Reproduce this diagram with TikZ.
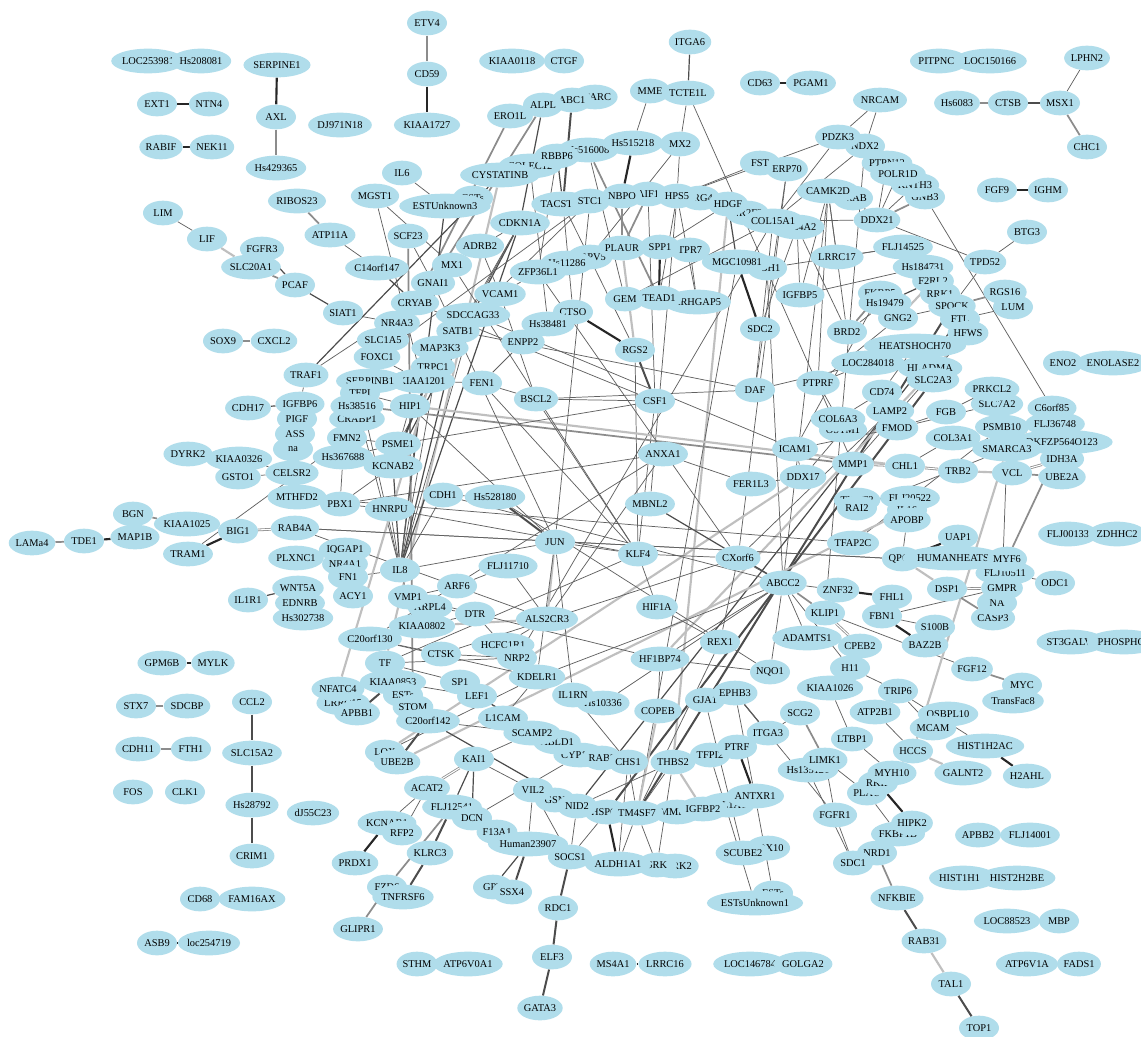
\documentclass[tikz,border=0pt]{standalone}
\usepackage{fontspec}
\setmainfont{Liberation Serif}
\usetikzlibrary{shapes.geometric}
\definecolor{nodeblue}{RGB}{176,221,235}
\pgfdeclarelayer{bg}
\pgfsetlayers{bg,main}
\tikzset{
 gnode/.style={ellipse, fill=nodeblue, draw=none, inner xsep=0pt, inner ysep=0pt, minimum height=18.5pt, minimum width=30pt, font=\fontsize{7.8}{8.5}\selectfont},
 eK/.style={draw=black!85, line width=1.6pt},
 eDK/.style={draw=black!70, line width=1.5pt},
 eD/.style={draw=black!70, line width=0.9pt},
 eT/.style={draw=black!62, line width=0.55pt},
 eM/.style={draw=black!45, line width=1.3pt},
 eL/.style={draw=black!25, line width=1.6pt},
 eDM/.style={draw=black!45, double=white, line width=0.6pt, double distance=0.8pt}
}
\newcommand\gnd[4]{\node[gnode] (#1) at (#2,#3) {#4};}
\newcommand\lnk[3]{\draw[#1] (#2) -- (#3);}
\begin{document}
\begin{tikzpicture}[x=0.75pt,y=-0.75pt]
\useasboundingbox (0,0) rectangle (1141,1036);
% ---------- outer / isolated nodes
\gnd{LOC253981}{148}{61}{LOC253981}
\gnd{Hs208081}{201}{61}{Hs208081}
\gnd{SERPINE1}{277}{65}{SERPINE1}
\gnd{AXL}{276}{117}{AXL}
\gnd{Hs429365}{276}{168}{Hs429365}
\gnd{EXT1}{157}{104}{EXT1}
\gnd{NTN4}{209}{104}{NTN4}
\gnd{RABIF}{161}{147}{RABIF}
\gnd{NEK11}{212}{147}{NEK11}
\gnd{DJ971N18}{340}{125}{DJ971N18}
\gnd{ETV4}{427}{23}{ETV4}
\gnd{CD59}{427}{74}{CD59}
\gnd{KIAA1727}{427}{125}{KIAA1727}
\gnd{KIAA0118}{512}{61}{KIAA0118}
\gnd{CTGF}{564}{61}{CTGF}
\gnd{ITGA6}{690}{42}{ITGA6}
\gnd{MME}{650}{91}{MME}
\gnd{TCTE1L}{688}{93}{TCTE1L}
\gnd{CD63}{760}{83}{CD63}
\gnd{PGAM1}{811}{83}{PGAM1}
\gnd{PITPNC1}{939}{61}{PITPNC1}
\gnd{LOC150166}{990}{61}{LOC150166}
\gnd{LPHN2}{1087}{58}{LPHN2}
\gnd{Hs6083}{957}{103}{Hs6083}
\gnd{CTSB}{1008}{103}{CTSB}
\gnd{MSX1}{1060}{103}{MSX1}
\gnd{CHC1}{1087}{147}{CHC1}
\gnd{FGF9}{997}{190}{FGF9}
\gnd{IGHM}{1048}{190}{IGHM}
\gnd{BTG3}{1027}{232}{BTG3}
\gnd{TPD52}{985}{262}{TPD52}
\gnd{ENO2}{1063}{363}{ENO2}
\gnd{ENOLASE2}{1113}{363}{ENOLASE2}
\gnd{FLJ00133}{1068}{534}{FLJ00133}
\gnd{ZDHHC2}{1117}{534}{ZDHHC2}
\gnd{ST3GALVI}{1071}{642}{ST3GALVI}
\gnd{PHOSPHO1}{1124}{642}{PHOSPHO1}
\gnd{LIM}{163}{213}{LIM}
\gnd{LIF}{207}{239}{LIF}
\gnd{RIBOS23}{297}{201}{RIBOS23}
\gnd{ATP11A}{330}{235}{ATP11A}
\gnd{FGFR3}{262}{249}{FGFR3}
\gnd{SLC20A1}{251}{267}{SLC20A1}
\gnd{PCAF}{295}{285}{PCAF}
\gnd{SIAT1}{343}{313}{SIAT1}
\gnd{C14orf147}{377}{268}{C14orf147}
\gnd{SOX9}{223}{341}{SOX9}
\gnd{CXCL2}{274}{341}{CXCL2}
\gnd{IL6}{402}{173}{IL6}
\gnd{MGST1}{375}{196}{MGST1}
\gnd{TRAF1}{306}{375}{TRAF1}
\gnd{CDH17}{248}{408}{CDH17}
\gnd{IGFBP6}{300}{404}{IGFBP6}
\gnd{PIGF}{297}{419}{PIGF}
\gnd{ASS}{295}{434}{ASS}
\gnd{na}{293}{449}{na}
\gnd{KIAA0326}{239}{459}{KIAA0326}
\gnd{DYRK2}{188}{454}{DYRK2}
\gnd{GSTO1}{238}{477}{GSTO1}
\gnd{CELSR2}{292}{473}{CELSR2}
\gnd{MTHFD2}{297}{497}{MTHFD2}
\gnd{BGN}{133}{514}{BGN}
\gnd{KIAA1025}{187}{524}{KIAA1025}
\gnd{LAMa4}{32}{543}{LAMa4}
\gnd{TDE1}{84}{541}{TDE1}
\gnd{MAP1B}{135}{537}{MAP1B}
\gnd{BIG1}{238}{531}{BIG1}
\gnd{TRAM1}{188}{554}{TRAM1}
\gnd{RAB4A}{295}{528}{RAB4A}
\gnd{PLXNC1}{296}{558}{PLXNC1}
\gnd{IL1R1}{248}{600}{IL1R1}
\gnd{WNT5A}{298}{588}{WNT5A}
\gnd{EDNRB}{300}{603}{EDNRB}
\gnd{Hs302738}{303}{618}{Hs302738}
\gnd{GPM6B}{162}{663}{GPM6B}
\gnd{MYLK}{213}{663}{MYLK}
\gnd{STX7}{136}{706}{STX7}
\gnd{SDCBP}{187}{706}{SDCBP}
\gnd{CCL2}{252}{702}{CCL2}
\gnd{CDH11}{138}{749}{CDH11}
\gnd{FTH1}{191}{749}{FTH1}
\gnd{SLC15A2}{252}{753}{SLC15A2}
\gnd{FOS}{133}{792}{FOS}
\gnd{CLK1}{185}{792}{CLK1}
\gnd{Hs28792}{252}{805}{Hs28792}
\gnd{CRIM1}{252}{856}{CRIM1}
\gnd{CD68}{200}{899}{CD68}
\gnd{FAM16AX}{252}{899}{FAM16AX}
\gnd{ASB9}{157}{943}{ASB9}
\gnd{loc254719}{209}{943}{loc254719}
\gnd{dJ55C23}{313}{813}{dJ55C23}
% ---------- central top
\gnd{SPARC}{595}{97}{SPARC}
\gnd{ABC1}{572}{100}{ABC1}
\gnd{ALPL}{543}{105}{ALPL}
\gnd{ERO1L}{510}{116}{ERO1L}
\gnd{COLEC12}{530}{166}{COLEC12}
\gnd{Hs516008}{588}{150}{Hs516008}
\gnd{RBBP6}{557}{156}{RBBP6}
\gnd{Hs515218}{633}{143}{Hs515218}
\gnd{MX2}{680}{144}{MX2}
\gnd{CYSTATINB}{500}{175}{CYSTATINB}
\gnd{ESTb}{473}{198}{ESTs}
\gnd{ESTUnknown3}{445}{206}{ESTUnknown3}
\gnd{SCF23}{408}{236}{SCF23}
\gnd{TAC}{563}{204}{TACSTD2}
\gnd{STC1}{590}{201}{STC1}
\gnd{AIF1}{648}{194}{AIF1}
\gnd{NBPO}{622}{196}{NBPO}
\gnd{PRG4}{700}{198}{PRG4}
\gnd{HPS5}{677}{196}{HPS5}
\gnd{NR2F2}{747}{213}{NR2F2}
\gnd{HDGF}{728}{204}{HDGF}
\gnd{COL4A2}{797}{227}{COL4A2}
\gnd{COL15A1}{773}{221}{COL15A1}
\gnd{CDKN1A}{520}{223}{CDKN1A}
\gnd{ADRB2}{480}{246}{ADRB2}
\gnd{MX1}{452}{265}{MX1}
\gnd{GNAI1}{433}{283}{GNAI1}
\gnd{CRYAB}{415}{303}{CRYAB}
\gnd{NR4A3}{397}{323}{NR4A3}
\gnd{SLC1A5}{383}{340}{SLC1A5}
\gnd{TRPV5}{590}{257}{TRPV5}
\gnd{Hs11286}{567}{263}{Hs11286}
\gnd{ZFP36L1}{538}{272}{ZFP36L1}
\gnd{VCAM1}{500}{294}{VCAM1}
\gnd{SDCCAG33}{473}{315}{SDCCAG33}
\gnd{SATB1}{458}{331}{SATB1}
\gnd{TRPC1}{433}{367}{TRPC1}
\gnd{MAP3K3}{440}{348}{MAP3K3}
\gnd{KIAA1201}{422}{381}{KIAA1201}
\gnd{FOXC1}{377}{357}{FOXC1}
\gnd{SERPINB1}{370}{381}{SERPINB1}
\gnd{TFPI}{360}{393}{TFPI}
\gnd{CRABP1}{357}{419}{CRABP1}
\gnd{Hs38516}{357}{406}{Hs38516}
\gnd{HIP1}{410}{406}{HIP1}
\gnd{FMN2}{347}{438}{FMN2}
\gnd{PSME1}{398}{444}{PSME1}
\gnd{Hs367688}{343}{457}{Hs367688}
\gnd{KCNAB2}{393}{466}{KCNAB2}
\gnd{CTSO}{573}{312}{CTSO}
\gnd{Hs38481}{548}{324}{Hs38481}
\gnd{ENPP2}{523}{342}{ENPP2}
\gnd{FEN1}{482}{383}{FEN1}
\gnd{BSCL2}{536}{399}{BSCL2}
\gnd{TPR7}{690}{250}{TPR7}
\gnd{SPP1}{660}{247}{SPP1}
\gnd{CBH1}{767}{268}{CBH1}
\gnd{MGC10981}{737}{262}{MGC10981}
\gnd{PLAUR}{622}{248}{PLAUR}
\gnd{GEM}{625}{299}{GEM}
\gnd{ARHGAP5}{697}{302}{ARHGAP5}
\gnd{TEAD1}{659}{298}{TEAD1}
\gnd{RGS2}{635}{350}{RGS2}
\gnd{CSF1}{655}{401}{CSF1}
\gnd{SDC2}{760}{329}{SDC2}
\gnd{IGFBP5}{800}{295}{IGFBP5}
\gnd{LRRC17}{837}{257}{LRRC17}
\gnd{BRD2}{847}{332}{BRD2}
% ---------- top right cluster
\gnd{FST}{760}{163}{FST}
\gnd{TRAB}{853}{198}{TRAB}
\gnd{ERP70}{787}{169}{ERP70}
\gnd{CAMK2D}{828}{191}{CAMK2D}
\gnd{NDX2}{865}{146}{NDX2}
\gnd{PDZK3}{838}{137}{PDZK3}
\gnd{NRCAM}{880}{100}{NRCAM}
\gnd{PTPN12}{887}{163}{PTPN12}
\gnd{GNB3}{925}{197}{GNB3}
\gnd{KNTH3}{915}{185}{KNTH3}
\gnd{POLR1D}{898}{174}{POLR1D}
\gnd{DDX21}{877}{220}{DDX21}
\gnd{FLJ14525}{903}{247}{FLJ14525}
\gnd{Hs184731}{923}{267}{Hs184731}
\gnd{F2RL2}{933}{281}{F2RL2}
\gnd{FKBP5}{880}{293}{FKBP5}
\gnd{RRK1}{940}{294}{RRK1}
\gnd{Hs19479}{885}{303}{Hs19479}
\gnd{SPOCK}{952}{306}{SPOCK}
\gnd{GNG2}{898}{318}{GNG2}
\gnd{FTL}{960}{319}{FTL}
\gnd{HFWS}{968}{333}{HFWS}
\gnd{HEATSHOCH70}{915}{346}{HEATSHOCH70}
\gnd{LOC284018}{868}{363}{LOC284018}
\gnd{HLADMA}{930}{368}{HLADMA}
\gnd{SLC2A3}{933}{380}{SLC2A3}
\gnd{CD74}{882}{392}{CD74}
\gnd{LAMP2}{890}{411}{LAMP2}
\gnd{FMOD}{897}{428}{FMOD}
\gnd{RGS16}{1005}{292}{RGS16}
\gnd{LUM}{1013}{307}{LUM}
\gnd{SLC7A2}{997}{404}{SLC7A2}
\gnd{PRKCL2}{992}{389}{PRKCL2}
\gnd{FGB}{946}{412}{FGB}
\gnd{C6orf85}{1052}{408}{C6orf85}
\gnd{FLJ36748}{1055}{424}{FLJ36748}
\gnd{PSMB10}{1002}{427}{PSMB10}
\gnd{COL3A1}{953}{438}{COL3A1}
\gnd{IDH3A}{1062}{459}{IDH3A}
\gnd{DKFZP564O123}{1062}{442}{DKFZP564O123}
\gnd{SMARCA3}{1007}{449}{SMARCA3}
\gnd{UBE2A}{1062}{477}{UBE2A}
\gnd{VCL}{1012}{473}{VCL}
\gnd{TRB2}{958}{471}{TRB2}
\gnd{CHL1}{905}{466}{CHL1}
% ---------- middle
\gnd{DAF}{755}{390}{DAF}
\gnd{PTPRF}{818}{383}{PTPRF}
\gnd{OSTM1}{843}{430}{OSTM1}
\gnd{COL6A3}{838}{419}{COL6A3}
\gnd{ICAM1}{795}{449}{ICAM1}
\gnd{MMP1}{853}{464}{MMP1}
\gnd{DDX17}{803}{477}{DDX17}
\gnd{FER1L3}{751}{484}{FER1L3}
\gnd{ANXA1}{663}{454}{ANXA1}
\gnd{MBNL2}{650}{504}{MBNL2}
\gnd{TNNT2}{857}{500}{TNNT2}
\gnd{RAI2}{857}{508}{RAI2}
\gnd{FLJ20522}{910}{498}{FLJ20522}
\gnd{IL16}{907}{510}{IL16}
\gnd{APOBP}{907}{520}{APOBP}
\gnd{TFAP2C}{853}{543}{TFAP2C}
\gnd{UAP1}{958}{537}{UAP1}
\gnd{QPCT}{902}{559}{QPCT}
\gnd{HUMANHEATS}{953}{558}{HUMANHEATS}
\gnd{FLJ10511}{1005}{573}{FLJ10511}
\gnd{MYF6}{1007}{559}{MYF6}
\gnd{ODC1}{1055}{583}{ODC1}
\gnd{DSP1}{947}{589}{DSP1}
\gnd{CASP3}{993}{618}{CASP3}
\gnd{NA}{997}{603}{NA}
\gnd{GMPR}{1002}{588}{GMPR}
\gnd{FHL1}{892}{597}{FHL1}
\gnd{FBN1}{882}{616}{FBN1}
\gnd{S100B}{935}{627}{S100B}
\gnd{CPEB2}{860}{646}{CPEB2}
\gnd{BAZ2B}{925}{645}{BAZ2B}
\gnd{FGF12}{972}{669}{FGF12}
\gnd{MYC}{1022}{685}{MYC}
\gnd{TransFac8}{1013}{701}{TransFac8}
\gnd{KLF4}{638}{554}{KLF4}
\gnd{CXorf6}{738}{558}{CXorf6}
\gnd{ABCC2}{783}{583}{ABCC2}
\gnd{ZNF32}{838}{590}{ZNF32}
\gnd{KLIP1}{825}{613}{KLIP1}
\gnd{HIF1A}{657}{607}{HIF1A}
\gnd{REX1}{720}{642}{REX1}
\gnd{ADAMTS1}{807}{638}{ADAMTS1}
\gnd{HF1BP74}{660}{659}{HF1BP74}
\gnd{H11}{850}{668}{H11}
\gnd{NQO1}{770}{672}{NQO1}
\gnd{KIAA1026}{830}{688}{KIAA1026}
% ---------- lower middle
\gnd{GJA1}{705}{700}{GJA1}
\gnd{EPHB3}{735}{693}{EPHB3}
\gnd{COPEB}{658}{711}{COPEB}
\gnd{Hs10336}{603}{703}{Hs10336}
\gnd{IL1RN}{573}{695}{IL1RN}
\gnd{ATP2B1}{875}{712}{ATP2B1}
\gnd{SCG2}{800}{713}{SCG2}
\gnd{ITGA3}{768}{733}{ITGA3}
\gnd{TFPI2}{710}{755}{TFPI2}
\gnd{PTRF}{737}{747}{PTRF}
\gnd{CYP1B1}{580}{755}{CYP1B1}
\gnd{RAB2}{602}{758}{RAB2}
\gnd{CHS1}{628}{762}{CHS1}
\gnd{THBS2}{673}{762}{THBS2}
\gnd{LTBP1}{852}{739}{LTBP1}
\gnd{Hs135121}{808}{770}{Hs135121}
\gnd{LIMK1}{825}{760}{LIMK1}
\gnd{TRIP6}{898}{691}{TRIP6}
\gnd{OSBPL10}{948}{714}{OSBPL10}
\gnd{MCAM}{933}{728}{MCAM}
\gnd{HCCS}{913}{751}{HCCS}
\gnd{HIST1H2AC}{985}{746}{HIST1H2AC}
\gnd{GALNT2}{963}{773}{GALNT2}
\gnd{H2AHL}{1027}{776}{H2AHL}
\gnd{PLAU}{867}{793}{PLAU}
\gnd{RKIP}{878}{783}{RKIP}
\gnd{MYH10}{892}{773}{MYH10}
\gnd{FKBP1B}{898}{834}{FKBP1B}
\gnd{HIPK2}{912}{823}{HIPK2}
\gnd{NRD1}{877}{853}{NRD1}
\gnd{SDC1}{853}{863}{SDC1}
\gnd{NFKBIE}{897}{898}{NFKBIE}
\gnd{RAB31}{924}{941}{RAB31}
\gnd{TAL1}{951}{984}{TAL1}
\gnd{TOP1}{979}{1028}{TOP1}
\gnd{APBB2}{978}{835}{APBB2}
\gnd{FLJ14001}{1030}{835}{FLJ14001}
\gnd{HIST1H1C}{963}{878}{HIST1H1C}
\gnd{HIST2H2BE}{1017}{878}{HIST2H2BE}
\gnd{LOC88523}{1007}{921}{LOC88523}
\gnd{MBP}{1059}{921}{MBP}
\gnd{ATP6V1A}{1027}{964}{ATP6V1A}
\gnd{FADS1}{1079}{964}{FADS1}
\gnd{FGFR1}{835}{815}{FGFR1}
\gnd{COL1A1}{727}{805}{COL1A1}
\gnd{MMP11}{677}{812}{MMP11}
\gnd{HSPG2}{607}{812}{HSPG2}
\gnd{GSN}{555}{800}{GSN}
\gnd{VIL2}{533}{790}{VIL2}
\gnd{NID2}{577}{806}{NID2}
\gnd{TM4SF7}{637}{813}{TM4SF7}
\gnd{IGFBP2}{703}{809}{IGFBP2}
\gnd{ANTXR1}{755}{796}{ANTXR1}
\gnd{SOCS1}{570}{857}{SOCS1}
\gnd{NTRK2}{675}{866}{NTRK2}
\gnd{SRK}{657}{865}{SRK}
\gnd{ALDH1A1}{618}{864}{ALDH1A1}
\gnd{SOX10}{768}{848}{SOX10}
\gnd{SCUBE2}{743}{853}{SCUBE2}
\gnd{ESTsUnknown2}{773}{893}{ESTs}
\gnd{ESTsUnknown1}{755}{903}{ESTsUnknown1}
\gnd{F13A1}{497}{832}{F13A1}
\gnd{Human23907}{528}{844}{Human23907}
\gnd{GPT}{493}{887}{GPT}
\gnd{SSX4}{512}{892}{SSX4}
\gnd{RDC1}{558}{908}{RDC1}
\gnd{ELF3}{552}{957}{ELF3}
\gnd{GATA3}{540}{1008}{GATA3}
\gnd{MS4A1}{613}{964}{MS4A1}
\gnd{LRRC16}{665}{964}{LRRC16}
\gnd{LOC146784}{750}{964}{LOC146784}
\gnd{GOLGA2}{803}{964}{GOLGA2}
% ---------- lower left
\gnd{KAI1}{474}{759}{KAI1}
\gnd{ACAT2}{427}{788}{ACAT2}
\gnd{FLJ12541}{452}{807}{FLJ12541}
\gnd{DCN}{472}{818}{DCN}
\gnd{KCNAB1}{387}{823}{KCNAB1}
\gnd{RFP2}{402}{833}{RFP2}
\gnd{KLRC3}{430}{853}{KLRC3}
\gnd{PRDX1}{355}{863}{PRDX1}
\gnd{FZD6}{387}{887}{FZD6}
\gnd{TNFRSF6}{403}{897}{TNFRSF6}
\gnd{GLIPR1}{358}{929}{GLIPR1}
\gnd{STHM}{417}{964}{STHM}
\gnd{ATP6V0A1}{468}{964}{ATP6V0A1}
\gnd{LOX}{385}{752}{LOX}
\gnd{UBE2B}{397}{762}{UBE2B}
\gnd{KIAA0853}{393}{682}{KIAA0853}
\gnd{ESTs}{403}{695}{ESTs}
\gnd{STOM}{413}{707}{STOM}
\gnd{C20orf142}{428}{721}{C20orf142}
\gnd{LRRC15}{343}{703}{LRRC15}
\gnd{NFATC4}{338}{689}{NFATC4}
\gnd{APBB1}{357}{713}{APBB1}
\gnd{SP1}{460}{682}{SP1}
\gnd{LEF1}{477}{696}{LEF1}
\gnd{L1CAM}{503}{718}{L1CAM}
\gnd{ABLD1}{557}{742}{ABLD1}
\gnd{SCAMP2}{532}{733}{SCAMP2}
\gnd{C20orf130}{370}{639}{C20orf130}
\gnd{TF}{385}{663}{TF}
\gnd{CTSK}{441}{654}{CTSK}
\gnd{ARPL4}{430}{607}{ARPL4}
\gnd{VMP1}{408}{597}{VMP1}
\gnd{KIAA0802}{422}{626}{KIAA0802}
\gnd{IL8}{400}{570}{IL8}
\gnd{ARF6}{457}{586}{ARF6}
\gnd{DTR}{475}{614}{DTR}
\gnd{ALS2CR3}{547}{619}{ALS2CR3}
\gnd{HCFC1R1}{503}{645}{HCFC1R1}
\gnd{NRP2}{517}{658}{NRP2}
\gnd{KDELR1}{537}{677}{KDELR1}
\gnd{FLJ11710}{508}{566}{FLJ11710}
\gnd{JUN}{555}{542}{JUN}
\gnd{IQGAP1}{345}{550}{IQGAP1}
\gnd{NR4A1}{345}{564}{NR4A1}
\gnd{FN1}{348}{577}{FN1}
\gnd{ACY1}{353}{596}{ACY1}
\gnd{CDH1}{443}{495}{CDH1}
\gnd{Hs528180}{495}{497}{Hs528180}
\gnd{PBX1}{340}{504}{PBX1}
\gnd{HNRPU}{390}{509}{HNRPU}
% ================= edges
\begin{pgfonlayer}{bg}
\fill[white] (0,0) rectangle (1141,1036);
\lnk{eK}{SERPINE1}{AXL}
\lnk{eM}{AXL}{Hs429365}
\lnk{eK}{EXT1}{NTN4}
\lnk{eK}{RABIF}{NEK11}
\lnk{eK}{LOC253981}{Hs208081}
\lnk{eM}{ETV4}{CD59}
\lnk{eK}{CD59}{KIAA1727}
\lnk{eK}{KIAA0118}{CTGF}
\lnk{eD}{ITGA6}{TCTE1L}
\lnk{eK}{CD63}{PGAM1}
\lnk{eK}{PITPNC1}{LOC150166}
\lnk{eM}{Hs6083}{CTSB}
\lnk{eD}{CTSB}{MSX1}
\lnk{eT}{MSX1}{LPHN2}
\lnk{eM}{MSX1}{CHC1}
\lnk{eK}{FGF9}{IGHM}
\lnk{eT}{BTG3}{TPD52}
\lnk{eK}{ENO2}{ENOLASE2}
\lnk{eK}{FLJ00133}{ZDHHC2}
\lnk{eK}{ST3GALVI}{PHOSPHO1}
\lnk{eT}{LIM}{LIF}
\lnk{eL}{LIF}{SLC20A1}
\lnk{eM}{SLC20A1}{PCAF}
\lnk{eD}{FGFR3}{PCAF}
\lnk{eD}{PCAF}{SIAT1}
\lnk{eM}{RIBOS23}{ATP11A}
\lnk{eT}{ATP11A}{C14orf147}
\lnk{eD}{C14orf147}{CRYAB}
\lnk{eT}{SIAT1}{NR4A3}
\lnk{eM}{SOX9}{CXCL2}
\lnk{eD}{CDH17}{IGFBP6}
\lnk{eT}{KIAA0326}{CELSR2}
\lnk{eT}{GSTO1}{CELSR2}
\lnk{eM}{BGN}{KIAA1025}
\lnk{eM}{LAMa4}{TDE1}
\lnk{eK}{TDE1}{MAP1B}
\lnk{eT}{KIAA1025}{BIG1}
\lnk{eK}{BIG1}{TRAM1}
\lnk{eDM}{BIG1}{RAB4A}
\lnk{eT}{TRAM1}{FMN2}
\lnk{eD}{IL1R1}{WNT5A}
\lnk{eK}{GPM6B}{MYLK}
\lnk{eM}{STX7}{SDCBP}
\lnk{eM}{CDH11}{FTH1}
\lnk{eDM}{FOS}{CLK1}
\lnk{eDK}{CCL2}{SLC15A2}
\lnk{eDK}{SLC15A2}{Hs28792}
\lnk{eDK}{Hs28792}{CRIM1}
\lnk{eK}{CD68}{FAM16AX}
\lnk{eK}{ASB9}{loc254719}
\lnk{eK}{STHM}{ATP6V0A1}
\lnk{eK}{MS4A1}{LRRC16}
\lnk{eK}{LOC146784}{GOLGA2}
\lnk{eK}{APBB2}{FLJ14001}
\lnk{eK}{HIST1H1C}{HIST2H2BE}
\lnk{eK}{LOC88523}{MBP}
\lnk{eK}{ATP6V1A}{FADS1}
\lnk{eK}{PRDX1}{KCNAB1}
\lnk{eM}{GLIPR1}{FZD6}
\lnk{eM}{FZD6}{FLJ12541}
\lnk{eDK}{TNFRSF6}{KLRC3}
\lnk{eDK}{KLRC3}{FLJ12541}
\lnk{eDM}{ACAT2}{KAI1}
\lnk{eD}{KAI1}{DCN}
\lnk{eD}{KAI1}{FLJ12541}
\lnk{eT}{ACAT2}{KCNAB1}
\lnk{eT}{ACAT2}{RFP2}
\lnk{eD}{GPT}{Human23907}
\lnk{eDK}{SSX4}{Human23907}
\lnk{eDK}{RDC1}{SOCS1}
\lnk{eDK}{ELF3}{RDC1}
\lnk{eDK}{GATA3}{ELF3}
\lnk{eT}{ESTsUnknown1}{TFPI2}
\lnk{eT}{ESTsUnknown2}{ANTXR1}
\lnk{eM}{NFKBIE}{NRD1}
\lnk{eDK}{NFKBIE}{RAB31}
\lnk{eL}{RAB31}{TAL1}
\lnk{eDK}{TAL1}{TOP1}
\lnk{eK}{RKIP}{HIPK2}
\lnk{eT}{FKBP1B}{PLAU}
\lnk{eK}{HIST1H2AC}{H2AHL}
\lnk{eL}{HCCS}{GALNT2}
\lnk{eT}{TRIP6}{HIST1H2AC}
\lnk{eM}{MYC}{FGF12}
\lnk{eT}{FGF12}{KLIP1}
\lnk{eT}{TPD52}{DDX21}
\lnk{eT}{TPD52}{SPOCK}
\lnk{eT}{GNB3}{C6orf85}
\lnk{eM}{RGS16}{SPOCK}
\lnk{eT}{LUM}{FTL}
\lnk{eT}{ODC1}{FLJ10511}
\lnk{eK}{UAP1}{QPCT}
\lnk{eL}{SMARCA3}{HCCS}
\lnk{eM}{DKFZP564O123}{MYF6}
\lnk{eM}{DKFZP564O123}{PSMB10}
\lnk{eDM}{VCL}{IDH3A}
\lnk{eM}{VCL}{UBE2A}
\lnk{eDM}{CHL1}{TRB2}
\lnk{eL}{TRB2}{VCL}
\lnk{eDM}{MMP1}{CHL1}
\lnk{eT}{PRKCL2}{FGB}
\lnk{eT}{FGB}{FMOD}
\lnk{eT}{COL3A1}{CHL1}
\lnk{eT}{SMARCA3}{GMPR}
\lnk{eT}{SMARCA3}{RAI2}
\lnk{eT}{PSMB10}{TFAP2C}
\lnk{eT}{PSMB10}{FLJ36748}
% central
\lnk{eM}{ERO1L}{CRYAB}
\lnk{eM}{ALPL}{SERPINB1}
\lnk{eDK}{ABC1}{TAC}
\lnk{eD}{ALPL}{CDKN1A}
\lnk{eM}{Hs516008}{TEAD1}
\lnk{eT}{Hs516008}{GEM}
\lnk{eK}{Hs515218}{NBPO}
\lnk{eT}{MME}{Hs515218}
\lnk{eT}{MX2}{HPS5}
\lnk{eT}{MX2}{TRPV5}
\lnk{eT}{TCTE1L}{MMP1}
\lnk{eT}{TCTE1L}{MX2}
\lnk{eT}{COLEC12}{Hs38481}
\lnk{eT}{RBBP6}{ZFP36L1}
\lnk{eD}{RBBP6}{TAC}
\lnk{eL}{CYSTATINB}{TF}
\lnk{eD}{CYSTATINB}{TRAF1}
\lnk{eT}{IL6}{ESTUnknown3}
\lnk{eT}{MGST1}{KIAA1201}
\lnk{eT}{MGST1}{MX1}
\lnk{eD}{ESTUnknown3}{IL8}
\lnk{eM}{SCF23}{STOM}
\lnk{eT}{SCF23}{GNAI1}
\lnk{eT}{CDKN1A}{SATB1}
\lnk{eD}{CDKN1A}{IL8}
\lnk{eD}{CDKN1A}{KCNAB2}
\lnk{eT}{CDKN1A}{PSME1}
\lnk{eT}{TAC}{CTSO}
\lnk{eT}{TAC}{RGS2}
\lnk{eT}{STC1}{FOXC1}
\lnk{eT}{STC1}{SDCCAG33}
\lnk{eT}{STC1}{JUN}
\lnk{eM}{NBPO}{PLAUR}
\lnk{eM}{AIF1}{PLAUR}
\lnk{eT}{AIF1}{CSF1}
\lnk{eT}{HPS5}{TEAD1}
\lnk{eT}{HPS5}{ARHGAP5}
\lnk{eT}{HPS5}{MBNL2}
\lnk{eL}{HDGF}{THBS2}
\lnk{eT}{HDGF}{SPP1}
\lnk{eD}{HDGF}{MGC10981}
\lnk{eT}{COL15A1}{GEM}
\lnk{eT}{COL15A1}{NRP2}
\lnk{eT}{COL15A1}{DAF}
\lnk{eT}{COL4A2}{IGFBP5}
\lnk{eT}{COL4A2}{BRD2}
\lnk{eT}{COL4A2}{SDC2}
\lnk{eL}{PLAUR}{RGS2}
\lnk{eK}{SPP1}{TEAD1}
\lnk{eT}{TPR7}{ARHGAP5}
\lnk{eK}{MGC10981}{SDC2}
\lnk{eT}{MGC10981}{TM4SF7}
\lnk{eT}{CBH1}{ABCC2}
\lnk{eT}{ERP70}{DAF}
\lnk{eT}{ERP70}{CXorf6}
\lnk{eT}{FST}{HPS5}
\lnk{eT}{CAMK2D}{LRRC17}
\lnk{eT}{CAMK2D}{IGFBP5}
\lnk{eT}{CAMK2D}{PTPRF}
\lnk{eT}{CAMK2D}{ABCC2}
\lnk{eT}{CAMK2D}{BRD2}
\lnk{eM}{TRAB}{DDX21}
\lnk{eT}{PDZK3}{HPS5}
\lnk{eT}{PDZK3}{COL15A1}
\lnk{eT}{NDX2}{COL15A1}
\lnk{eT}{NDX2}{KLIP1}
\lnk{eT}{NRCAM}{PDZK3}
\lnk{eT}{NRCAM}{NDX2}
\lnk{eT}{PTPN12}{DDX21}
\lnk{eT}{POLR1D}{DDX21}
\lnk{eT}{KNTH3}{DDX21}
\lnk{eM}{GNB3}{DDX21}
\lnk{eT}{DDX21}{COL15A1}
\lnk{eT}{FLJ14525}{LRRC17}
\lnk{eT}{FLJ14525}{CBH1}
\lnk{eT}{Hs184731}{IGFBP5}
\lnk{eD}{F2RL2}{Hs19479}
\lnk{eL}{F2RL2}{GNG2}
\lnk{eM}{FKBP5}{BRD2}
\lnk{eT}{FKBP5}{ICAM1}
\lnk{eT}{Hs19479}{BRD2}
\lnk{eT}{GNG2}{PTPRF}
\lnk{eT}{SPOCK}{GNG2}
\lnk{eDK}{SPOCK}{TM4SF7}
\lnk{eD}{FTL}{NID2}
\lnk{eL}{HFWS}{HF1BP74}
\lnk{eT}{HFWS}{MMP1}
\lnk{eT}{HEATSHOCH70}{LOC284018}
\lnk{eT}{HEATSHOCH70}{CD74}
\lnk{eT}{LOC284018}{PTPRF}
\lnk{eT}{LOC284018}{DAF}
\lnk{eT}{CD74}{COL6A3}
\lnk{eDK}{SLC2A3}{HSPG2}
\lnk{eT}{LAMP2}{CXorf6}
\lnk{eT}{FMOD}{ICAM1}
\lnk{eT}{SLC7A2}{FMOD}
\lnk{eT}{COL6A3}{PTPRF}
\lnk{eT}{OSTM1}{DDX17}
\lnk{eT}{ICAM1}{DDX17}
\lnk{eT}{ICAM1}{MMP1}
\lnk{eT}{DDX17}{FER1L3}
\lnk{eT}{FER1L3}{ANXA1}
\lnk{eT}{ANXA1}{ALS2CR3}
\lnk{eL}{LOX}{DDX17}
\lnk{eL}{IL16}{UBE2B}
\lnk{eT}{APOBP}{QPCT}
\lnk{eL}{QPCT}{DSP1}
\lnk{eDM}{GMPR}{DSP1}
\lnk{eM}{DSP1}{CASP3}
\lnk{eT}{GMPR}{FBN1}
\lnk{eT}{QPCT}{RAB4A}
\lnk{eK}{FHL1}{ZNF32}
\lnk{eT}{FBN1}{S100B}
\lnk{eK}{FBN1}{BAZ2B}
\lnk{eDM}{KLIP1}{CPEB2}
\lnk{eT}{ZNF32}{ABCC2}
\lnk{eT}{ABCC2}{CXorf6}
\lnk{eM}{ABCC2}{KLIP1}
\lnk{eT}{ABCC2}{NQO1}
\lnk{eT}{ABCC2}{H11}
\lnk{eT}{ADAMTS1}{ABCC2}
\lnk{eT}{CXorf6}{KLF4}
\lnk{eT}{KLF4}{CSF1}
\lnk{eT}{KLF4}{HIF1A}
\lnk{eT}{KLF4}{RGS2}
\lnk{eT}{KLF4}{JUN}
\lnk{eD}{MBNL2}{ABCC2}
\lnk{eDK}{CSF1}{RGS2}
\lnk{eT}{HIF1A}{REX1}
\lnk{eT}{HF1BP74}{ABCC2}
\lnk{eT}{REX1}{CXorf6}
\lnk{eT}{REX1}{TM4SF7}
\lnk{eT}{NQO1}{HF1BP74}
\lnk{eT}{H11}{KIAA1026}
\lnk{eT}{H11}{TRIP6}
\lnk{eT}{KIAA1026}{LTBP1}
\lnk{eM}{SCG2}{LIMK1}
\lnk{eT}{SCG2}{ITGA3}
\lnk{eD}{ITGA3}{EPHB3}
\lnk{eK}{PTRF}{ANTXR1}
\lnk{eT}{PTRF}{TFPI2}
\lnk{eT}{TFPI2}{THBS2}
\lnk{eL}{THBS2}{IGFBP2}
\lnk{eT}{THBS2}{TM4SF7}
\lnk{eT}{THBS2}{SRK}
\lnk{eT}{CHS1}{ALDH1A1}
\lnk{eT}{CHS1}{TM4SF7}
\lnk{eL}{COPEB}{TM4SF7}
\lnk{eT}{COPEB}{HF1BP74}
\lnk{eT}{EPHB3}{FGFR1}
\lnk{eT}{EPHB3}{ANTXR1}
\lnk{eT}{GJA1}{SCUBE2}
\lnk{eT}{LTBP1}{MYH10}
\lnk{eT}{LIMK1}{FGFR1}
\lnk{eT}{LIMK1}{PLAU}
\lnk{eT}{Hs135121}{SDC1}
\lnk{eT}{ATP2B1}{HCCS}
\lnk{eT}{ATP2B1}{TRIP6}
\lnk{eT}{TRIP6}{MCAM}
\lnk{eT}{MYH10}{HCCS}
\lnk{eT}{NRD1}{FKBP1B}
\lnk{eT}{SDC1}{FGFR1}
\lnk{eT}{IL8}{MAP3K3}
\lnk{eD}{IL8}{SATB1}
\lnk{eT}{IL8}{SDCCAG33}
\lnk{eT}{IL8}{KIAA1201}
\lnk{eD}{IL8}{KCNAB2}
\lnk{eT}{IL8}{HNRPU}
\lnk{eT}{IL8}{CDH1}
\lnk{eT}{IL8}{FN1}
\lnk{eT}{IL8}{VMP1}
\lnk{eT}{IL8}{Hs38516}
\lnk{eT}{IL8}{TFPI}
\lnk{eT}{IL8}{JUN}
\lnk{eT}{VMP1}{ARF6}
\lnk{eT}{ARPL4}{DTR}
\lnk{eT}{KIAA0802}{DTR}
\lnk{eL}{KIAA0802}{ALS2CR3}
\lnk{eT}{C20orf130}{CTSK}
\lnk{eT}{C20orf130}{KDELR1}
\lnk{eT}{TF}{NRP2}
\lnk{eT}{TF}{SP1}
\lnk{eT}{CTSK}{NRP2}
\lnk{eT}{HCFC1R1}{DTR}
\lnk{eT}{HCFC1R1}{ALS2CR3}
\lnk{eT}{NRP2}{KDELR1}
\lnk{eT}{KDELR1}{L1CAM}
\lnk{eT}{KDELR1}{ABCC2}
\lnk{eT}{SP1}{SCAMP2}
\lnk{eT}{SP1}{LEF1}
\lnk{eT}{LEF1}{KIAA0853}
\lnk{eD}{LEF1}{CYP1B1}
\lnk{eDK}{UBE2B}{C20orf142}
\lnk{eT}{C20orf142}{SCAMP2}
\lnk{eT}{LOX}{KDELR1}
\lnk{eDK}{APBB1}{KIAA0853}
\lnk{eT}{NFATC4}{KIAA0853}
\lnk{eT}{L1CAM}{SCAMP2}
\lnk{eDK}{SCAMP2}{ABLD1}
\lnk{eD}{C20orf142}{NID2}
\lnk{eT}{IL1RN}{CHS1}
\lnk{eT}{IL1RN}{JUN}
\lnk{eT}{Hs10336}{ABCC2}
\lnk{eT}{KAI1}{SCAMP2}
\lnk{eT}{KAI1}{VIL2}
\lnk{eT}{DCN}{CYP1B1}
\lnk{eT}{VIL2}{Human23907}
\lnk{eT}{VIL2}{SOCS1}
\lnk{eT}{VIL2}{GSN}
\lnk{eT}{NID2}{SOCS1}
\lnk{eT}{NID2}{THBS2}
\lnk{eT}{HSPG2}{SOCS1}
\lnk{eT}{TM4SF7}{ALDH1A1}
\lnk{eT}{TM4SF7}{SRK}
\lnk{eT}{IGFBP2}{ANTXR1}
\lnk{eK}{HSPG2}{ALDH1A1}
\lnk{eT}{CDH1}{Hs528180}
\lnk{eDK}{Hs528180}{JUN}
\lnk{eT}{HNRPU}{PBX1}
\lnk{eT}{PBX1}{Hs367688}
\lnk{eT}{PBX1}{MTHFD2}
\lnk{eT}{PBX1}{KCNAB2}
\lnk{eT}{KCNAB2}{PSME1}
\lnk{eT}{KCNAB2}{HIP1}
\lnk{eDK}{KCNAB2}{MAP3K3}
\lnk{eT}{FMN2}{PSME1}
\lnk{eT}{FMN2}{Hs38516}
\lnk{eT}{Hs367688}{PSME1}
\lnk{eM}{Hs38516}{MMP1}
\lnk{eL}{HIP1}{CHL1}
\lnk{eT}{CELSR2}{ASS}
\lnk{eT}{TRAF1}{IGFBP6}
\lnk{eT}{TRAF1}{CRYAB}
\lnk{eT}{SERPINB1}{FOXC1}
\lnk{eT}{FOXC1}{KIAA1201}
\lnk{eT}{TFPI}{HIP1}
\lnk{eT}{NR4A3}{CRYAB}
\lnk{eT}{CRYAB}{GNAI1}
\lnk{eT}{GNAI1}{MX1}
\lnk{eT}{MX1}{ADRB2}
\lnk{eT}{ADRB2}{CDKN1A}
\lnk{eT}{ADRB2}{VCAM1}
\lnk{eT}{VCAM1}{SDCCAG33}
\lnk{eT}{SATB1}{MAP3K3}
\lnk{eT}{TRPC1}{KIAA1201}
\lnk{eT}{VCAM1}{ZFP36L1}
\lnk{eT}{CTSO}{Hs38481}
\lnk{eT}{ENPP2}{FEN1}
\lnk{eT}{FEN1}{BSCL2}
\lnk{eT}{BSCL2}{CSF1}
\lnk{eT}{BSCL2}{DAF}
\lnk{eK}{CTSO}{RGS2}
\lnk{eT}{FEN1}{KLF4}
\lnk{eT}{BSCL2}{KLF4}
\lnk{eL}{MAP3K3}{NFATC4}
\lnk{eT}{RAB4A}{QPCT}
\lnk{eT}{RAB4A}{ALS2CR3}
\lnk{eT}{FLJ11710}{ALS2CR3}
\lnk{eT}{ARF6}{FLJ11710}
\lnk{eL}{JUN}{ALS2CR3}
\lnk{eT}{JUN}{KDELR1}
\lnk{eT}{MTHFD2}{TFAP2C}
\lnk{eT}{PBX1}{ANXA1}
\lnk{eT}{HNRPU}{KLF4}
\lnk{eT}{CDH1}{ABCC2}
\lnk{eT}{Hs528180}{NQO1}
\lnk{eT}{ZFP36L1}{CXorf6}
\lnk{eT}{VCAM1}{BSCL2}
\lnk{eT}{GNAI1}{JUN}
\lnk{eT}{MX1}{KLF4}
\lnk{eT}{SDCCAG33}{ICAM1}
\lnk{eT}{SATB1}{DAF}
\lnk{eT}{CRYAB}{CSF1}
\lnk{eT}{PSME1}{CSF1}
\lnk{eT}{KIAA1201}{FEN1}
\lnk{eT}{HIP1}{JUN}
\lnk{eT}{TF}{KLF4}
\lnk{eT}{C20orf130}{ANXA1}
\lnk{eT}{CTSK}{CXorf6}
\lnk{eT}{VMP1}{HF1BP74}
\end{pgfonlayer}
\end{tikzpicture}
\end{document}
